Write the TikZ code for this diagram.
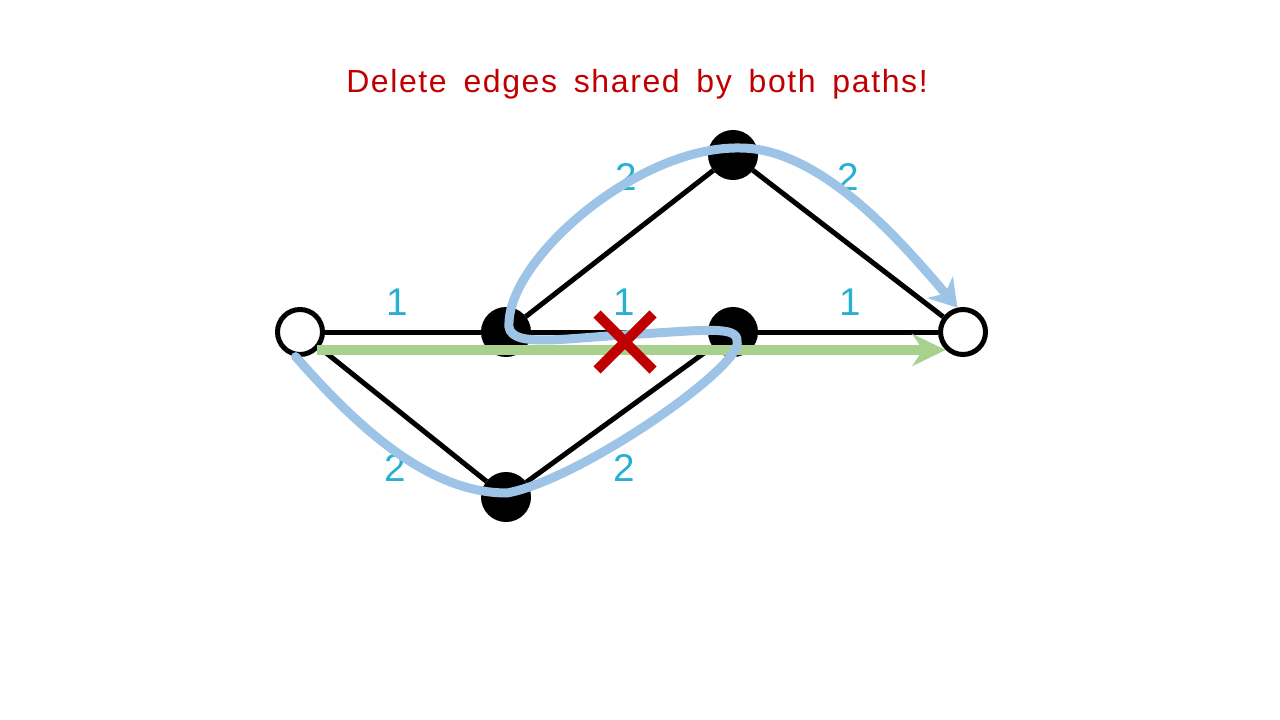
\documentclass[tikz,border=0pt]{standalone}
\usepackage{fontspec}
\setmainfont{Liberation Sans}
\newfontfamily\titlefont[LetterSpace=5, WordSpace=1.6]{Liberation Sans}
\usetikzlibrary{arrows.meta}
\definecolor{weightblue}{RGB}{38,176,210}
\definecolor{pathblue}{RGB}{157,195,230}
\definecolor{pathgreen}{RGB}{169,209,142}
\definecolor{crossred}{RGB}{192,0,0}

\begin{document}
\begin{tikzpicture}[x=0.75pt, y=-0.75pt, line width=3.75pt,
  vertex/.style={circle, draw, minimum size=33.75pt, inner sep=0pt},
  hole/.style={vertex, fill=white},
  dot/.style={vertex, fill=black},
  weight/.style={text=weightblue, font=\fontsize{29}{34}\selectfont},
  greenpath/.style={draw=pathgreen, line width=7.5pt,
    -{Stealth[length=25pt, width=24pt, inset=8pt]}},
  bluepath/.style={draw=pathblue, line width=6.75pt, line cap=round,
    -{Stealth[length=20pt, width=25pt, inset=6pt]}},
  cross/.style={draw=crossred, line width=7.5pt}]
\useasboundingbox (0,0) rectangle (1280,720);

\node[text=crossred, font=\titlefont\fontsize{24}{29}\selectfont] (title) at (637,84) {Delete edges shared by both paths!};

\node[hole] (s) at (300,332) {};
\node[dot]  (a) at (506,332) {};
\node[dot]  (b) at (733,155) {};
\node[dot]  (c) at (733,332) {};
\node[dot]  (d) at (506,497) {};
\node[hole] (t) at (963,332) {};

\path (s) edge (a)
      (a) edge (c)
      (c) edge (t)
      (a) edge (b)
      (b) edge (t)
      (s) edge (d)
      (d) edge (c);

\node[weight] (w1) at (397,302) {1};
\node[weight] (w2) at (624,302) {1};
\node[weight] (w3) at (850,302) {1};
\node[weight] (w4) at (626,177) {2};
\node[weight] (w5) at (848,177) {2};
\node[weight] (w6) at (395,468) {2};
\node[weight] (w7) at (624,468) {2};

% first path, straight along the bottom row
\draw[greenpath] (s.-46) -- (t.-134);

% second path, winding over every edge
\draw[bluepath] (s.-100) .. controls (360,430) and (430,493) .. (507,493)
  .. controls (580,480) and (745,365) .. (737,341)
  .. controls (738,326) and (705,330) .. (640,334)
  .. controls (560,338) and (505,350) .. (509,322)
  .. controls (512,255) and (640,146) .. (740,148)
  .. controls (820,148) and (900,240) .. (t.103);

\draw[cross] (597,314) -- (653,370)
             (597,370) -- (653,314);
\end{tikzpicture}
\end{document}
